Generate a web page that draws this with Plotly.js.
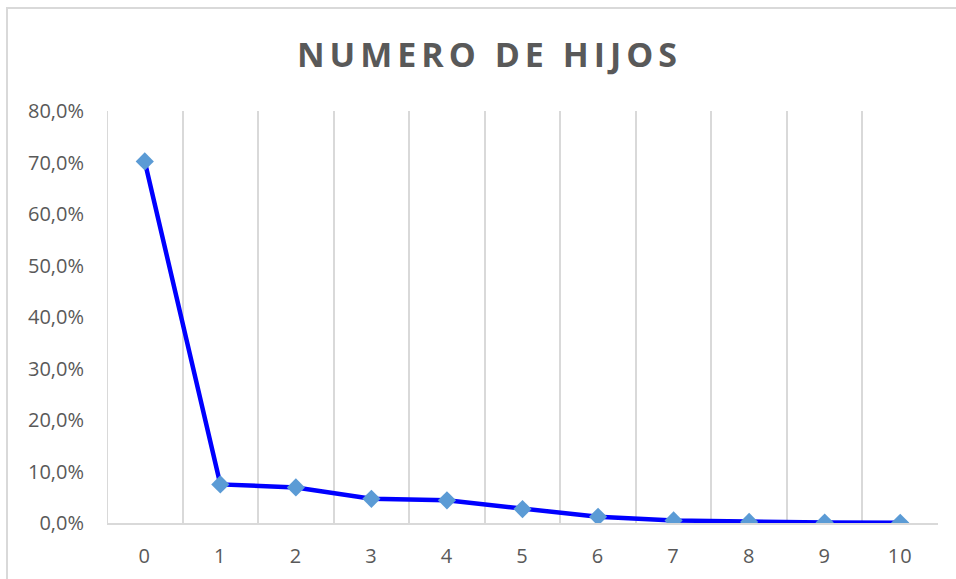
<!DOCTYPE html>
<html>
<head>
<meta charset="utf-8">
<script src="https://cdn.plot.ly/plotly-3.0.1.min.js"></script>
<style>
  html, body { margin: 0; padding: 0; background: #fff; }
  #chart { width: 956px; height: 579px; }
  #frame { position: absolute; left: 6px; top: 7px; width: 960px; height: 600px;
           border-left: 2px solid #d9d9d9; border-top: 2px solid #d9d9d9; pointer-events: none; }
</style>
</head>
<body>
<div id="chart"></div>
<div id="frame"></div>
<script>
const categories = [0, 1, 2, 3, 4, 5, 6, 7, 8, 9, 10];
const values = [70.2, 7.5, 6.9, 4.7, 4.4, 2.7, 1.2, 0.5, 0.2, 0.1, 0.05];
const yTicks = [0, 10, 20, 30, 40, 50, 60, 70, 80];
const yTickLabels = ['0,0%', '10,0%', '20,0%', '30,0%', '40,0%', '50,0%', '60,0%', '70,0%', '80,0%'];
const title = 'NUMERO DE HIJOS';

const trace = {
  x: categories,
  y: values,
  type: 'scatter',
  mode: 'lines+markers',
  line: { color: '#0000FF', width: 4.5 },
  marker: { symbol: 'diamond', size: 14, color: '#5B9BD5' },
  hoverinfo: 'skip'
};

const layout = {
  width: 956, height: 579,
  margin: { l: 107, r: 18, t: 111, b: 56 },
  paper_bgcolor: '#ffffff', plot_bgcolor: '#ffffff',
  separators: ',.',
  showlegend: false,
  title: { text: '<b>' + title + '</b>', x: 0.512, xanchor: 'center', y: 0.905, yanchor: 'middle',
           font: { family: 'Open Sans', size: 34, color: '#595959' } },
  xaxis: {
    range: [-0.5, 10.5],
    tickvals: categories, ticktext: categories.map(String),
    showgrid: false, zeroline: false,
    showline: true, linecolor: '#d9d9d9', linewidth: 2,
    ticks: '', ticklabelstandoff: 14,
    tickfont: { family: 'Open Sans', size: 20, color: '#595959' },
    minor: { tick0: 0.5, dtick: 1, showgrid: true, gridcolor: '#d9d9d9', gridwidth: 2, ticks: '' }
  },
  yaxis: {
    range: [0, 80],
    tickvals: yTicks, ticktext: yTickLabels,
    showgrid: false, zeroline: false, showline: false,
    ticks: '', ticklabelstandoff: 22,
    tickfont: { family: 'Open Sans', size: 20, color: '#595959' }
  },
  shapes: [
    { type: 'line', xref: 'x', yref: 'paper', x0: -0.5, x1: -0.5, y0: 0, y1: 1,
      line: { color: '#d9d9d9', width: 2 }, layer: 'below' }
  ]
};

Plotly.newPlot('chart', [trace], layout, { staticPlot: true }).then(function () {
  const t = document.querySelector('.gtitle');
  if (t) t.style.letterSpacing = '5px';
  document.querySelectorAll('.xtick text').forEach(function (e) { e.style.letterSpacing = '1px'; });
});
</script>
</body>
</html>
